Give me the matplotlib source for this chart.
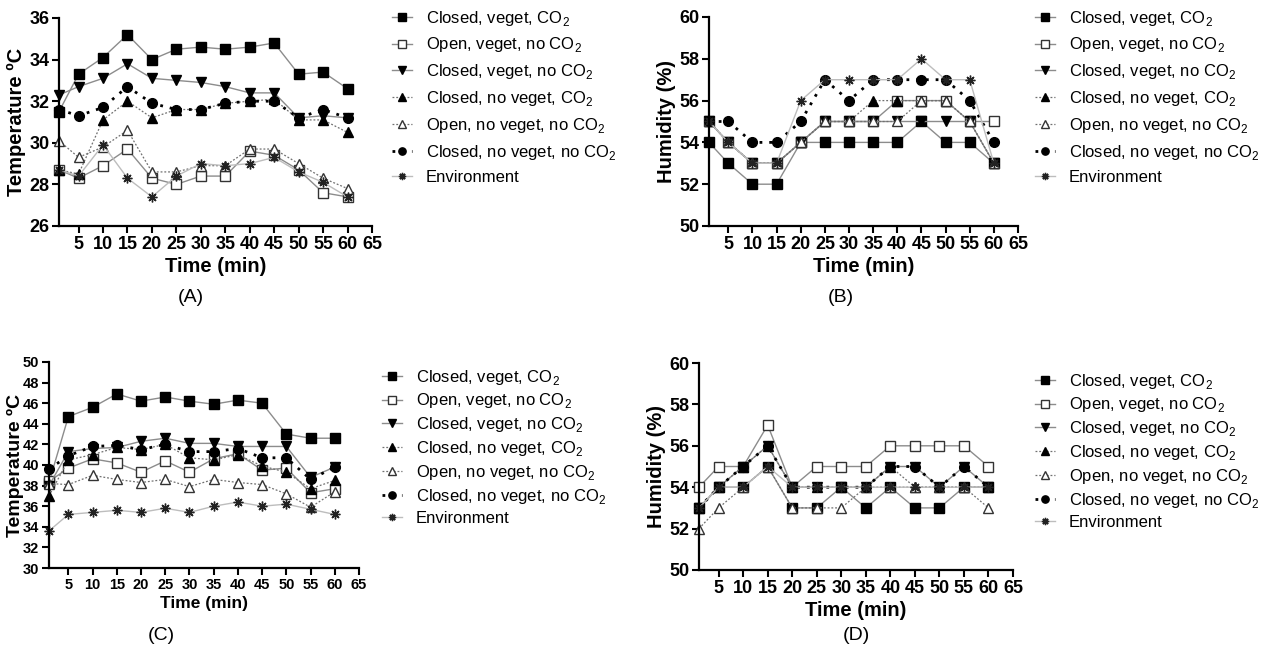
import matplotlib
matplotlib.use("Agg")
import matplotlib.pyplot as plt

plt.rcParams['font.family'] = ['Liberation Sans', 'DejaVu Sans']
plt.rcParams['mathtext.fontset'] = 'custom'
plt.rcParams['mathtext.rm'] = 'Liberation Sans'

time = [1, 5, 10, 15, 20, 25, 30, 35, 40, 45, 50, 55, 60]
labels = ['Closed, veget, CO$_{\\mathregular{2}}$',
          'Open, veget, no CO$_{\\mathregular{2}}$',
          'Closed, veget, no CO$_{\\mathregular{2}}$',
          'Closed, no veget, CO$_{\\mathregular{2}}$',
          'Open, no veget, no CO$_{\\mathregular{2}}$',
          'Closed, no veget, no CO$_{\\mathregular{2}}$',
          'Environment']

# Panel A: temperature
a_cv_co2 = [31.5, 33.3, 34.1, 35.2, 34.0, 34.5, 34.6, 34.5, 34.6, 34.8, 33.3, 33.4, 32.6]
a_ov_no = [28.7, 28.3, 28.9, 29.7, 28.3, 28.0, 28.4, 28.4, 29.6, 29.4, 28.7, 27.6, 27.4]
a_cv_no = [32.3, 32.7, 33.1, 33.8, 33.1, 33.0, 32.9, 32.7, 32.4, 32.4, 31.2, 31.3, 31.2]
a_cn_co2 = [28.7, 28.5, 31.1, 32.0, 31.2, 31.6, 31.6, 31.9, 32.0, 32.1, 31.1, 31.1, 30.5]
a_on_no = [30.1, 29.3, 29.8, 30.6, 28.6, 28.6, 28.9, 28.9, 29.7, 29.7, 29.0, 28.3, 27.8]
a_cn_no = [31.6, 31.3, 31.7, 32.7, 31.9, 31.6, 31.6, 31.9, 32.0, 32.0, 31.2, 31.6, 31.2]
a_env = [28.7, 28.4, 29.9, 28.3, 27.4, 28.4, 29.0, 28.9, 29.0, 29.3, 28.6, 28.1, 27.4]

# Panel B: humidity
b_cv_co2 = [54, 53, 52, 52, 54, 54, 54, 54, 54, 55, 54, 54, 53]
b_ov_no = [55, 54, 53, 53, 54, 55, 55, 55, 56, 56, 56, 55, 55]
b_cv_no = [55, 54, 53, 53, 54, 55, 55, 55, 55, 55, 55, 55, 53]
b_cn_co2 = [55, 54, 53, 53, 54, 55, 55, 56, 56, 56, 56, 55, 53]
b_on_no = [55, 54, 53, 53, 54, 55, 55, 55, 55, 56, 56, 55, 53]
b_cn_no = [55, 55, 54, 54, 55, 57, 56, 57, 57, 57, 57, 56, 54]
b_env = [55, 54, 53, 53, 56, 57, 57, 57, 57, 58, 57, 57, 53]

# Panel C: temperature
c_cv_co2 = [38.3, 44.7, 45.6, 46.9, 46.2, 46.6, 46.2, 45.9, 46.3, 46.0, 43.0, 42.6, 42.6]
c_ov_no = [38.4, 39.7, 40.6, 40.2, 39.3, 40.4, 39.3, 40.6, 41.1, 39.5, 39.7, 37.3, 37.7]
c_cv_no = [38.0, 41.3, 41.6, 41.7, 42.3, 42.6, 42.1, 42.1, 41.8, 41.8, 41.8, 38.8, 39.8]
c_cn_co2 = [37.0, 40.5, 41.0, 41.7, 41.5, 42.0, 40.7, 40.5, 41.0, 39.9, 39.3, 37.7, 38.5]
c_on_no = [38.2, 38.1, 39.0, 38.6, 38.3, 38.6, 37.9, 38.6, 38.3, 38.1, 37.2, 35.9, 37.4]
c_cn_no = [39.6, 40.9, 41.8, 41.9, 41.5, 42.0, 41.3, 41.3, 41.6, 40.7, 40.7, 38.6, 39.8]
c_env = [33.6, 35.2, 35.4, 35.6, 35.4, 35.8, 35.4, 36.0, 36.4, 36.0, 36.2, 35.7, 35.2]

# Panel D: humidity
d_cv_co2 = [53, 54, 54, 55, 53, 53, 54, 53, 54, 53, 53, 54, 54]
d_ov_no = [54, 55, 55, 57, 54, 55, 55, 55, 56, 56, 56, 56, 55]
d_cv_no = [53, 54, 55, 56, 54, 54, 54, 54, 55, 55, 54, 55, 54]
d_cn_co2 = [53, 54, 55, 56, 54, 54, 54, 54, 55, 54, 54, 54, 54]
d_on_no = [52, 53, 54, 55, 53, 53, 53, 54, 54, 54, 54, 54, 53]
d_cn_no = [53, 54, 55, 56, 54, 54, 54, 54, 55, 55, 54, 55, 54]
d_env = [53, 54, 54, 55, 54, 54, 54, 54, 54, 54, 54, 54, 54]

styles = [
    dict(marker='s', mfc='black', mec='black', color='#8c8c8c', ls='-', lw=1.0, ms=7),
    dict(marker='s', mfc='white', mec='#333333', color='#8c8c8c', ls='-', lw=1.0, ms=7, mew=1.0),
    dict(marker='v', mfc='black', mec='black', color='#8c8c8c', ls='-', lw=1.0, ms=7),
    dict(marker='^', mfc='black', mec='black', color='#707070', ls=(0, (1.5, 1.5)), lw=0.9, ms=7),
    dict(marker='^', mfc='white', mec='#333333', color='#707070', ls=(0, (1.5, 1.5)), lw=0.9, ms=7, mew=1.0),
    dict(marker='o', mfc='black', mec='black', color='black', ls=(0, (1, 2.5)), lw=2.0, ms=7),
    dict(marker=(8, 2, 0), mfc='black', mec='#222222', color='#bdbdbd', ls='-', lw=1.0, ms=7, mew=1.0),
]

W, H = 1279, 652
fig = plt.figure(figsize=(W / 100, H / 100), dpi=100)

def make_ax(l, r, t, b):
    return fig.add_axes([l / W, 1 - b / H, (r - l) / W, (b - t) / H])

panels = [
    dict(box=(59, 372, 18, 226), data=[a_cv_co2, a_ov_no, a_cv_no, a_cn_co2, a_on_no, a_cn_no, a_env],
         ylim=(26, 36), yt=range(26, 37, 2), ylabel='Temperature ºC', tag='(A)', tagxy=(191, 298),
         leg=(385, 2), ls=0.47, tfs=13, xlfs=14.5, ylfs=14.5, ylx=None),
    dict(box=(709, 1018, 17, 226), data=[b_cv_co2, b_ov_no, b_cv_no, b_cn_co2, b_on_no, b_cn_no, b_env],
         ylim=(50, 60), yt=range(50, 61, 2), ylabel='Humidity (%)', tag='(B)', tagxy=(841, 298),
         leg=(1028, 2), ls=0.47, tfs=13, xlfs=14.5, ylfs=14.5, ylx=None),
    dict(box=(49, 359, 362, 568), data=[c_cv_co2, c_ov_no, c_cv_no, c_cn_co2, c_on_no, c_cn_no, c_env],
         ylim=(30, 50), yt=range(30, 51, 2), ylabel='Temperature ºC', tag='(C)', tagxy=(161, 636),
         leg=(375, 361), ls=0.29, tfs=10.5, xlfs=12.5, ylfs=14, ylx=-0.08),
    dict(box=(699, 1013, 363, 570), data=[d_cv_co2, d_ov_no, d_cv_no, d_cn_co2, d_on_no, d_cn_no, d_env],
         ylim=(50, 60), yt=range(50, 61, 2), ylabel='Humidity (%)', tag='(D)', tagxy=(856, 636),
         leg=(1028, 365), ls=0.29, tfs=13, xlfs=14.5, ylfs=14.5, ylx=None),
]

for p in panels:
    ax = make_ax(*p['box'])
    handles = []
    for series, st, lab in zip(p['data'], styles, labels):
        h, = ax.plot(time, series, label=lab, clip_on=False, **st)
        handles.append(h)
    ax.set_xlim(1, 65)
    ax.set_ylim(*p['ylim'])
    ax.set_xticks(range(5, 66, 5))
    ax.set_yticks(list(p['yt']))
    for s in ['top', 'right']:
        ax.spines[s].set_visible(False)
    for s in ['left', 'bottom']:
        ax.spines[s].set_linewidth(1.6)
    ax.tick_params(width=1.5, length=5, labelsize=p['tfs'], pad=2)
    for lbl in ax.get_xticklabels() + ax.get_yticklabels():
        lbl.set_fontweight('bold')
    ax.set_xlabel('Time (min)', fontsize=p['xlfs'], fontweight='bold', labelpad=3)
    ax.set_ylabel(p['ylabel'], fontsize=p['ylfs'], fontweight='bold', labelpad=2)
    if p['ylx'] is not None:
        ax.yaxis.set_label_coords(p['ylx'], 0.5)
    fig.text(p['tagxy'][0] / W, 1 - p['tagxy'][1] / H, p['tag'], fontsize=14,
             ha='center', va='center')
    lx, ly = p['leg']
    fig.legend(handles=handles, loc='upper left', bbox_to_anchor=(lx / W, 1 - ly / H),
               frameon=False, fontsize=12, handlelength=1.2, handletextpad=0.85,
               labelspacing=p['ls'], borderaxespad=0, markerscale=0.75)

fig.savefig('out.png', dpi=100)
